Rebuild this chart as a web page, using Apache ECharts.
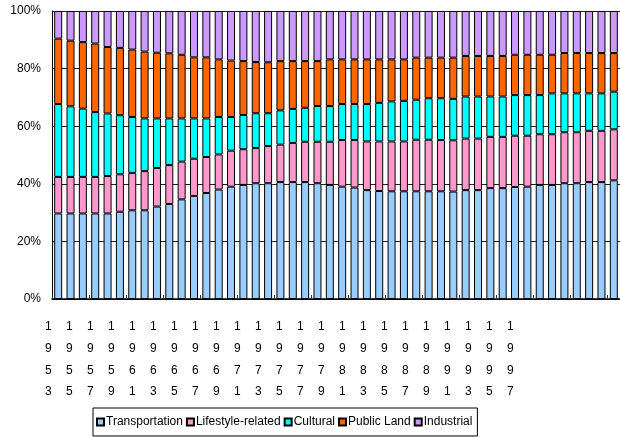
<!DOCTYPE html>
<html>
<head>
<meta charset="utf-8">
<script src="https://cdn.jsdelivr.net/npm/echarts@6/dist/echarts.min.js"></script>
<style>
  html, body { margin: 0; padding: 0; background: #fff; }
  #chart { width: 620px; height: 437px; }
</style>
</head>
<body>
<div id="chart"></div>
<script>
const years = ['1953','1954','1955','1956','1957','1958','1959','1960','1961','1962',
  '1963','1964','1965','1966','1967','1968','1969','1970','1971','1972',
  '1973','1974','1975','1976','1977','1978','1979','1980','1981','1982',
  '1983','1984','1985','1986','1987','1988','1989','1990','1991','1992',
  '1993','1994','1995','1996','1997','1998'];

const yearTickLabels = ['1953','1955','1957','1959','1961','1963','1965','1967','1969','1971',
  '1973','1975','1977','1979','1981','1983','1985','1987','1989','1991',
  '1993','1995','1997'];

const yTickLabels = ['0%','20%','40%','60%','80%','100%'];

const transportation = [29.7,29.7,29.7,29.7,29.7,30.3,30.8,30.8,32.1,33.0,
  34.6,35.8,36.8,38.0,39.0,39.6,40.2,40.2,40.6,40.6,
  40.6,40.2,39.6,39.0,38.7,37.8,37.5,37.4,37.4,37.4,
  37.4,37.4,37.3,37.8,37.8,38.5,38.5,38.9,39.0,39.6,
  39.6,40.2,40.2,40.6,40.6,41.2];

const lifestyle = [12.7,12.7,12.7,12.7,13.0,13.0,13.0,13.6,13.4,13.5,
  13.1,12.9,12.5,12.2,12.5,12.4,12.2,12.9,13.0,13.6,
  14.0,14.4,15.0,16.2,16.5,16.9,17.2,17.3,17.3,17.9,
  17.9,17.8,17.8,17.9,17.9,17.8,17.8,17.8,17.7,17.6,
  17.6,17.7,17.7,17.8,17.8,17.7];

const cultural = [25.3,24.5,23.7,22.5,21.7,20.5,19.4,18.3,17.2,16.2,
  15.0,14.0,13.4,13.0,11.7,11.9,12.1,11.4,11.9,11.8,
  11.8,12.4,12.4,12.5,12.5,13.0,13.4,13.9,14.1,13.9,
  14.4,14.5,14.4,14.6,14.6,14.0,14.0,14.1,14.1,13.6,
  14.2,13.5,13.5,13.0,13.0,13.1];

const publicLand = [22.7,22.8,23.1,23.8,23.1,23.4,23.4,23.2,22.8,22.6,
  22.1,21.2,21.2,20.0,19.6,18.7,17.8,17.7,17.1,16.6,
  16.2,15.6,16.2,15.5,15.5,15.5,15.1,14.6,14.4,14.6,
  14.1,14.1,14.3,14.1,14.1,14.1,14.1,14.0,14.0,14.0,
  13.4,14.0,14.0,14.0,14.0,13.4];

const industrial = [9.6,10.3,10.8,11.3,12.5,12.8,13.4,14.1,14.5,14.7,
  15.2,16.1,16.1,16.8,17.2,17.4,17.7,17.8,17.4,17.4,
  17.4,17.4,16.8,16.8,16.8,16.8,16.8,16.8,16.8,16.2,
  16.2,16.2,16.2,15.6,15.6,15.6,15.6,15.2,15.2,15.2,
  15.2,14.6,14.6,14.6,14.6,14.6];

const seriesNames = ['Transportation','Lifestyle-related','Cultural','Public Land','Industrial'];
const seriesColors = ['#99CCFF','#FF99CC','#00FFFF','#FF6600','#CC99FF'];
const seriesData = [transportation, lifestyle, cultural, publicLand, industrial];

const FONT = "'Liberation Sans', Arial, sans-serif";

const chart = echarts.init(document.getElementById('chart'), null, { renderer: 'canvas' });

const option = {
  backgroundColor: '#ffffff',
  animation: false,
  grid: [
    { left: 52, top: 11, width: 571.5, height: 288, containLabel: false },
    { left: 37.8, top: 298, width: 483, height: 1, containLabel: false }
  ],
  legend: {
    data: seriesNames,
    left: 93,
    top: 408,
    orient: 'horizontal',
    icon: 'rect',
    itemWidth: 7,
    itemHeight: 7,
    itemGap: 3,
    padding: [8, 5, 8, 3],
    borderColor: '#000',
    borderWidth: 1,
    borderRadius: 0,
    textStyle: { fontFamily: FONT, fontSize: 12, color: '#000', padding: [0, 0, 0, -3] }
  },
  xAxis: [
    {
      type: 'category',
      gridIndex: 0,
      data: years,
      boundaryGap: true,
      axisLine: { show: true, lineStyle: { color: '#000', width: 1.5 } },
      axisTick: { show: true, inside: true, length: 4, lineStyle: { color: '#333', width: 1 } },
      axisLabel: { show: false },
      splitLine: { show: false }
    },
    {
      type: 'category',
      gridIndex: 1,
      data: yearTickLabels,
      boundaryGap: true,
      axisLine: { show: false },
      axisTick: { show: false },
      splitLine: { show: false },
      axisLabel: {
        show: true,
        interval: 0,
        margin: 17,
        fontFamily: FONT,
        fontSize: 12,
        color: '#000',
        lineHeight: 21.7,
        verticalAlign: 'top',
        formatter: function (v) { return v.split('').join('\n'); }
      }
    }
  ],
  yAxis: [
    {
      type: 'value',
      gridIndex: 0,
      min: 0,
      max: 100,
      interval: 20,
      axisLine: { show: true, lineStyle: { color: '#000', width: 1 } },
      axisTick: { show: false },
      splitLine: { show: true, lineStyle: { color: '#222', width: 1, type: 'solid' } },
      axisLabel: {
        margin: 11,
        fontFamily: FONT,
        fontSize: 12,
        color: '#000',
        formatter: function (v) { return yTickLabels[Math.round(v / 20)]; }
      }
    },
    {
      type: 'value',
      gridIndex: 1,
      show: false
    }
  ],
  series: seriesData.map(function (d, i) {
    return {
      name: seriesNames[i],
      type: 'bar',
      stack: 'total',
      xAxisIndex: 0,
      yAxisIndex: 0,
      barWidth: 8,
      data: d,
      itemStyle: { color: seriesColors[i], borderColor: '#000', borderWidth: 1 },
      emphasis: { disabled: true }
    };
  })
};

chart.setOption(option);
</script>
</body>
</html>
